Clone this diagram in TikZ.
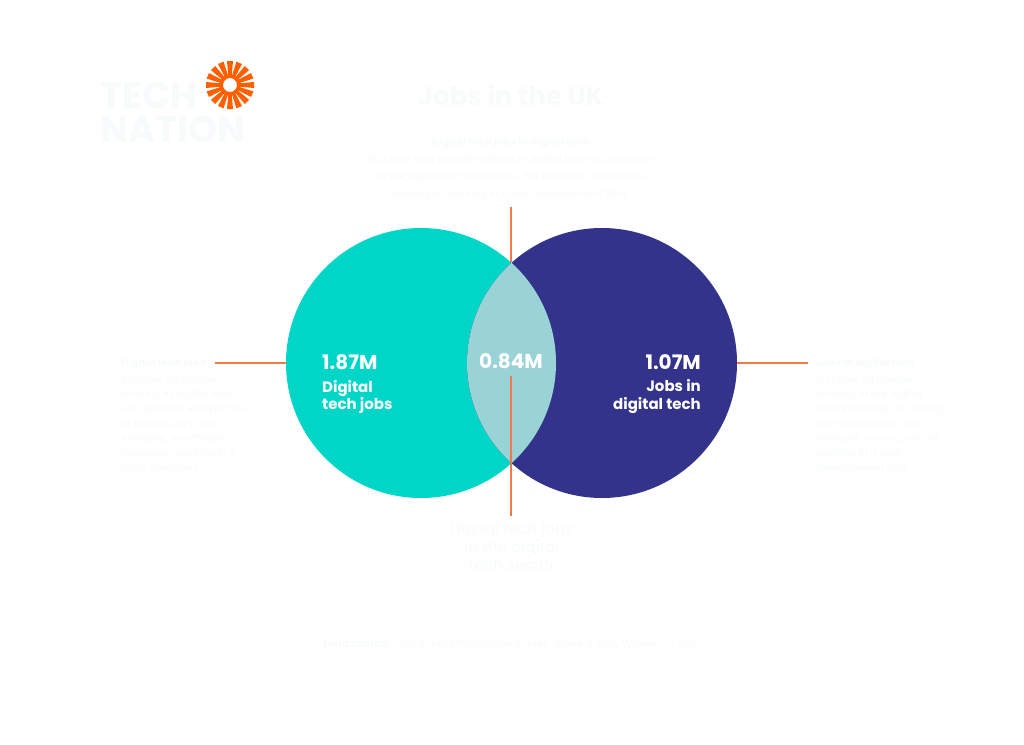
\documentclass[tikz,border=0pt]{standalone}
\usepackage{fontspec}
\setmainfont{Poppins}
\usetikzlibrary{positioning}
\definecolor{tech teal}{HTML}{00D6C8}
\definecolor{tech navy}{HTML}{33338C}
\definecolor{tech lens}{HTML}{9AD3D6}
\definecolor{tech orange}{HTML}{FF5F00}
\definecolor{tech line}{HTML}{F47A45}
\definecolor{faint}{HTML}{F7FBFB}
\tikzset{
	venn/.style = {circle, minimum size=270pt, inner sep=0pt},
	figure/.style = {text=white, font=\fontsize{20}{24}\selectfont\bfseries, inner sep=0pt},
	caption/.style = {text=white, font=\fontsize{15}{17.5}\selectfont\bfseries, inner sep=0pt},
	blurb/.style = {text=faint, font=\fontsize{10.2}{14.7}\selectfont, align=left, anchor=north west, inner sep=0pt},
	logotext/.style = {text=faint, font=\fontsize{37}{37}\selectfont\bfseries, inner sep=0pt, anchor=west},
	leader/.style = {tech line, line width=1.4pt}
}
\begin{document}
\begin{tikzpicture}[x=1pt, y=-1pt]
	\useasboundingbox (0, 0) rectangle (1024, 744);
	% the two circles
	\node[venn, fill=tech teal] (digital) at (421, 363) {};
	\node[venn, fill=tech navy] (jobs) at (602, 363) {};
	% part for the overlap
	\begin{scope}
		\clip (421, 363) circle (135);
		\fill[color = tech lens] (602, 363) circle (135);
	\end{scope}
	% logo
	\foreach \a in {0, 22.5, ..., 337.5}
		\fill[tech orange, shift={(230, 85)}, rotate=\a] (8, -1.6) -- (24, -3) -- (24, 3) -- (8, 1.6) -- cycle;
	\fill[tech orange, even odd rule] (230, 85) circle (10.5) (230, 85) circle (7);
	\node[logotext] (tech) at (100, 95) {TECH};
	\node[logotext] (nation) at (100, 129) {NATION};
	% heading
	\node[text=faint, font=\fontsize{26}{30}\selectfont\bfseries] (title) at (511, 95) {Jobs in the UK};
	\node[blurb, align=center, anchor=north, font=\fontsize{10.2}{17.3}\selectfont] (intro) at (511, 137) {\textbf{Digital tech jobs in digital tech}\\
		Includes only people working in digital tech occupations\\
		in the digital tech industries. For example, a software\\
		developer working in a web development firm.};
	% figures
	\node[figure, anchor=west] (leftnum) at (322, 362) {1.87M};
	\node[caption, align=left, below right=10pt and 0pt of leftnum.south west] (leftcap) {Digital\\tech jobs};
	\node[figure] (midnum) at (511, 361) {0.84M};
	\node[figure, anchor=east] (rightnum) at (701, 362) {1.07M};
	\node[caption, align=right, below left=10pt and 0pt of rightnum.south east] (rightcap) {Jobs in\\digital tech};
	% side texts
	\node[blurb] (leftblurb) at (121, 358) {\textbf{Digital tech jobs}\\[2pt]
		Includes all people\\
		working in digital tech\\
		occupations irrespective\\
		of the industry. For\\
		example, a software\\
		developer working in a\\
		retail company};
	\node[blurb] (rightblurb) at (816, 358) {\textbf{Jobs in digital tech}\\[2pt]
		Includes all people\\
		working in the digital\\
		tech industries, including\\
		non-digital jobs. For\\
		example, an accountant\\
		working in a web\\
		development firm};
	\node[text=faint, font=\fontsize{15.3}{17.6}\selectfont, align=center, anchor=north, inner sep=0pt] (lowertext) at (512, 523) {Digital tech jobs\\in the digital\\tech sector};
	\node[text=faint, font=\fontsize{10.3}{12}\selectfont, inner sep=0pt] (source) at (511, 645) {\textbf{Data source:} ONS Annual Population Survey, Wave 4 2016, Waves 1-3 2017};
	% leaders
	\coordinate (leftend) at (215, 363);
	\coordinate (rightend) at (808, 363);
	\coordinate (topend) at (511, 207);
	\coordinate (toplens) at (511, 262);
	\coordinate (lowerstart) at (511, 376);
	\coordinate (lowerend) at (511, 516);
	\draw[leader] (leftend) -- (digital.west);
	\draw[leader] (jobs.east) -- (rightend);
	\draw[leader] (topend) -- (toplens);
	\draw[leader] (lowerstart) -- (lowerend);
\end{tikzpicture}
\end{document}
